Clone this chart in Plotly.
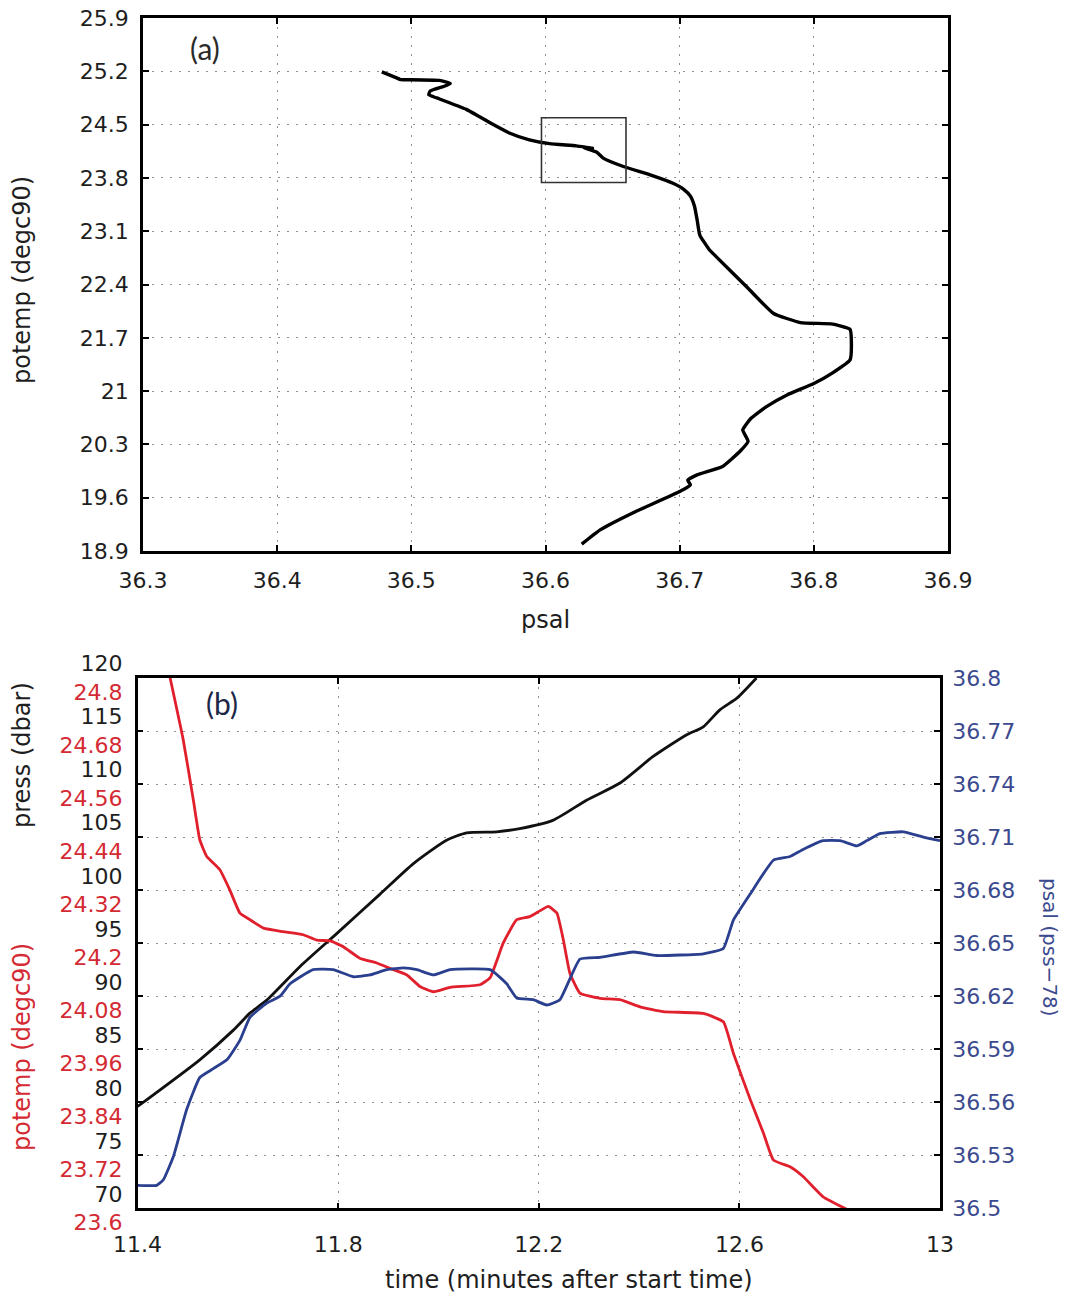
import plotly.graph_objects as go

# ---- Panel (a): potential temperature vs salinity profile ----
psal_a = [36.478, 36.489, 36.492, 36.499, 36.521, 36.529, 36.524, 36.514, 36.513, 36.519,
          36.541, 36.559, 36.573, 36.588, 36.603, 36.623, 36.635, 36.628, 36.638, 36.643,
          36.658, 36.678, 36.695, 36.703, 36.708, 36.711, 36.713, 36.715, 36.722, 36.727,
          36.751, 36.770, 36.790, 36.814, 36.827, 36.828, 36.827, 36.814, 36.800, 36.780,
          36.765, 36.753, 36.747, 36.751, 36.745, 36.732, 36.713, 36.706, 36.708, 36.700,
          36.665, 36.641, 36.627]
potemp_a = [25.193, 25.114, 25.09, 25.09, 25.08, 25.04, 25.00, 24.94, 24.89, 24.85,
            24.70, 24.52, 24.39, 24.30, 24.25, 24.22, 24.19, 24.20, 24.14, 24.06,
            23.95, 23.84, 23.73, 23.65, 23.56, 23.43, 23.25, 23.05, 22.86, 22.77,
            22.35, 22.02, 21.90, 21.88, 21.81, 21.63, 21.41, 21.24, 21.10, 20.95,
            20.80, 20.64, 20.49, 20.34, 20.21, 20.01, 19.90, 19.83, 19.77, 19.68,
            19.40, 19.18, 18.99]
a_xticks = [36.3, 36.4, 36.5, 36.6, 36.7, 36.8, 36.9]
a_yticks = [18.9, 19.6, 20.3, 21.0, 21.7, 22.4, 23.1, 23.8, 24.5, 25.2, 25.9]
a_ylabels = ["18.9", "19.6", "20.3", "21", "21.7", "22.4", "23.1", "23.8", "24.5", "25.2", "25.9"]
box_psal = [36.597, 36.660]
box_potemp = [23.74, 24.59]

# ---- Panel (b): time series of pressure, potential temperature, salinity ----
t_press = [11.40, 11.524, 11.591, 11.624, 11.657, 11.724, 11.797, 11.883, 11.950, 12.016,
           12.056, 12.116, 12.162, 12.229, 12.296, 12.362, 12.428, 12.495, 12.528, 12.561,
           12.595, 12.634]
press = [79.6, 84.0, 86.8, 88.4, 89.6, 92.8, 95.9, 99.6, 102.5, 104.7,
         105.4, 105.5, 105.8, 106.6, 108.5, 110.1, 112.6, 114.65, 115.4, 117.0,
         118.1, 120.0]

t_temp = [11.463, 11.491, 11.511, 11.524, 11.538, 11.564, 11.584, 11.604, 11.624, 11.651,
          11.690, 11.730, 11.757, 11.784, 11.810, 11.843, 11.877, 11.903, 11.937, 11.963,
          11.990, 12.023, 12.083, 12.103, 12.129, 12.156, 12.182, 12.202, 12.219, 12.236,
          12.249, 12.262, 12.282, 12.322, 12.362, 12.402, 12.448, 12.528, 12.568, 12.588,
          12.622, 12.648, 12.668, 12.701, 12.727, 12.767, 12.814]
potemp_b = [24.81, 24.66, 24.525, 24.434, 24.396, 24.366, 24.32, 24.268, 24.253, 24.234,
            24.226, 24.219, 24.207, 24.205, 24.192, 24.166, 24.155, 24.143, 24.128, 24.102,
            24.090, 24.100, 24.106, 24.122, 24.200, 24.253, 24.260, 24.273, 24.283, 24.268,
            24.207, 24.132, 24.087, 24.075, 24.072, 24.056, 24.045, 24.041, 24.022, 23.951,
            23.845, 23.770, 23.709, 23.694, 23.672, 23.626, 23.598]

t_sal = [11.40, 11.438, 11.451, 11.471, 11.498, 11.524, 11.551, 11.578, 11.604, 11.624,
         11.657, 11.684, 11.704, 11.750, 11.790, 11.830, 11.863, 11.897, 11.930, 11.957,
         11.990, 12.023, 12.103, 12.136, 12.156, 12.189, 12.216, 12.242, 12.282, 12.322,
         12.389, 12.435, 12.528, 12.568, 12.588, 12.622, 12.668, 12.701, 12.727, 12.767,
         12.801, 12.834, 12.854, 12.880, 12.927, 12.967, 13.00]
psal_b = [36.513, 36.513, 36.516, 36.529, 36.556, 36.574, 36.579, 36.584, 36.595, 36.608,
          36.616, 36.620, 36.627, 36.635, 36.635, 36.631, 36.632, 36.635, 36.636, 36.635,
          36.632, 36.635, 36.635, 36.627, 36.619, 36.618, 36.615, 36.618, 36.641, 36.642,
          36.645, 36.643, 36.644, 36.647, 36.663, 36.678, 36.697, 36.699, 36.703, 36.708,
          36.708, 36.705, 36.708, 36.712, 36.713, 36.710, 36.708]

b_xticks = [11.4, 11.8, 12.2, 12.6, 13.0]
b_xlabels = ["11.4", "11.8", "12.2", "12.6", "13"]
press_ticks = [70, 75, 80, 85, 90, 95, 100, 105, 110, 115, 120]
potemp_labels = ["23.6", "23.72", "23.84", "23.96", "24.08", "24.2",
                 "24.32", "24.44", "24.56", "24.68", "24.8"]
psal_ticks = [36.5, 36.53, 36.56, 36.59, 36.62, 36.65, 36.68, 36.71, 36.74, 36.77, 36.8]
psal_labels = ["36.5", "36.53", "36.56", "36.59", "36.62", "36.65",
               "36.68", "36.71", "36.74", "36.77", "36.8"]

RED = "#e0202c"
RED_TXT = "#d42a33"
BLUE = "#2a3f8e"
BLUE_TXT = "#3b4a8e"
INK = "#1e1e1e"
FONT = "DejaVu Sans, Verdana, sans-serif"
TICK = 22
TITLE = 24
W, H = 1069, 1299

fig = go.Figure()

fig.add_trace(go.Scatter(x=psal_a, y=potemp_a, mode="lines",
                         line=dict(color="black", width=3.4, shape="spline", smoothing=0.4),
                         xaxis="x", yaxis="y", showlegend=False))

fig.add_trace(go.Scatter(x=t_press, y=press, mode="lines",
                         line=dict(color="#111111", width=2.8, shape="spline", smoothing=0.6),
                         xaxis="x2", yaxis="y2", showlegend=False))
fig.add_trace(go.Scatter(x=t_temp, y=potemp_b, mode="lines",
                         line=dict(color=RED, width=2.8, shape="spline", smoothing=0.4),
                         xaxis="x2", yaxis="y3", showlegend=False))
fig.add_trace(go.Scatter(x=t_sal, y=psal_b, mode="lines",
                         line=dict(color=BLUE, width=2.8, shape="spline", smoothing=0.4),
                         xaxis="x2", yaxis="y4", showlegend=False))

grid = dict(showgrid=True, gridcolor="#8f8f8f", gridwidth=1, griddash="2px,7px")
frame = dict(showline=True, linecolor="black", linewidth=2.5, mirror="ticks",
             ticks="inside", ticklen=6, tickwidth=2, tickcolor="black", zeroline=False,
             automargin=False)

# domains in paper fractions
ax_l, ax_r = 143 / W, 948 / W
ay_b, ay_t = 1 - 551 / H, 1 - 18 / H
bx_l, bx_r = 137.6 / W, 940 / W
by_b, by_t = 1 - 1208.3 / H, 1 - 678 / H

fig.update_layout(
    width=W, height=H, autosize=False,
    margin=dict(l=0, r=0, t=0, b=0, pad=0),
    paper_bgcolor="white", plot_bgcolor="white",
    font=dict(family=FONT, color=INK),
    xaxis=dict(domain=[ax_l, ax_r], anchor="y", range=[36.3, 36.9],
               tickvals=a_xticks, ticktext=[f"{v:.1f}" for v in a_xticks],
               tickfont=dict(size=TICK, color=INK), ticklabelstandoff=8,
               **grid, **frame),
    yaxis=dict(domain=[ay_b, ay_t], anchor="x", range=[18.9, 25.9],
               tickvals=a_yticks, ticktext=a_ylabels,
               tickfont=dict(size=TICK, color=INK), ticklabelstandoff=7,
               **grid, **frame),
    xaxis2=dict(domain=[bx_l, bx_r], anchor="y2", range=[11.4, 13.0],
                tickvals=b_xticks, ticktext=b_xlabels,
                tickfont=dict(size=TICK, color=INK), ticklabelstandoff=15,
                **grid, **frame),
    yaxis2=dict(domain=[by_b, by_t], anchor="x2", range=[70, 120],
                tickvals=press_ticks,
                ticktext=[f"{p}<br><span style='color:{RED_TXT}'>{t}</span>"
                          for p, t in zip(press_ticks, potemp_labels)],
                tickfont=dict(size=TICK, color=INK), ticklabelstandoff=8,
                **grid, **frame),
    yaxis3=dict(domain=[by_b, by_t], anchor="x2", overlaying="y2", range=[23.6, 24.8],
                visible=False, automargin=False),
    yaxis4=dict(domain=[by_b, by_t], anchor="x2", overlaying="y2", side="right",
                range=[36.5, 36.8], tickvals=psal_ticks, ticktext=psal_labels,
                tickfont=dict(size=TICK, color=BLUE_TXT), ticklabelstandoff=5,
                showgrid=False, zeroline=False, showline=True, linecolor="black",
                linewidth=2.5, ticks="inside", ticklen=6, tickwidth=2, tickcolor="black",
                automargin=False),
)

# zoom box on panel (a)
fig.add_shape(type="rect", xref="x", yref="y",
              x0=box_psal[0], x1=box_psal[1], y0=box_potemp[0], y1=box_potemp[1],
              line=dict(color="#333333", width=1.6))


def label(text, px, py, size, color=INK, angle=0, family=None):
    f = dict(size=size, color=color)
    if family:
        f["family"] = family
    return dict(text=text, x=px / W, y=1 - py / H, xref="paper", yref="paper",
                xanchor="center", yanchor="middle", showarrow=False,
                textangle=angle, font=f)


ann = [
    label("(a)", 205, 48, 30, "#2a2a2a", family="Lato, Open Sans, sans-serif"),
    label("(b)", 222, 703, 30, "#1c2748", family="Lato, Open Sans, sans-serif"),
    label("potemp (degc90)", 22, 280, TITLE, angle=-90),
    label("psal", 545, 620, TITLE),
    label("press (dbar)", 22, 755, TITLE, angle=-90),
    label("potemp (degc90)", 22, 1047, TITLE, RED_TXT, angle=-90),
    label("psal (pss\u221278)", 1050, 947, 20, BLUE_TXT, angle=90),
    label("time (minutes after start time)", 569, 1280, TITLE),
]
fig.update_layout(annotations=ann)

fig.write_html("out.html")
